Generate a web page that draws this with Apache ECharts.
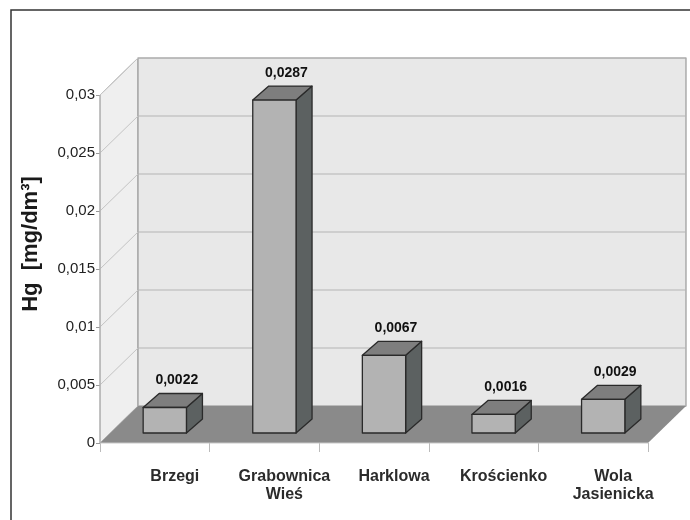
<!DOCTYPE html>
<html>
<head>
<meta charset="utf-8">
<script src="https://cdn.jsdelivr.net/npm/echarts@6/dist/echarts.min.js"></script>
<style>
  html, body { margin: 0; padding: 0; background: #fff; }
  #chart { width: 690px; height: 520px; }
</style>
</head>
<body>
<div id="chart"></div>
<script>
// dane
var categories = ['Brzegi', 'Grabownica\nWieś', 'Harklowa', 'Krościenko', 'Wola\nJasienicka'];
var hgValues = [0.0022, 0.0287, 0.0067, 0.0016, 0.0029];
var yTicks = [0, 0.005, 0.01, 0.015, 0.02, 0.025, 0.03];

var FONT = '"Liberation Sans", Arial, sans-serif';
// przesunięcie głębi (3D)
var DX = 38, DY = -37;
var BAR_OFF = 10, BAR_DX = 16, BAR_DY = -14;

function fmt (v) {
  return String(+v.toFixed(4)).replace('.', ',');
}

var chart = echarts.init(document.getElementById('chart'));

var option = {
  animation: false,
  grid: { left: 100, right: 42, top: 95, bottom: 77 },
  graphic: [
    {
      type: 'rect', z: 0,
      shape: { x: 11, y: 10, width: 700, height: 600 },
      style: { fill: 'none', stroke: '#333', lineWidth: 1.5 }
    },
    {
      type: 'text', z: 10,
      x: 31, y: 244, rotation: Math.PI / 2,
      style: {
        text: 'Hg  [mg/dm³]', font: 'bold 22px ' + FONT, fill: '#1a1a1a',
        textAlign: 'center', textVerticalAlign: 'middle'
      }
    }
  ],
  xAxis: {
    type: 'category',
    data: categories,
    axisLine: { show: false },
    axisTick: { show: true, interval: 0, length: 9, lineStyle: { color: '#bbb' } },
    axisLabel: {
      interval: 0, hideOverlap: false,
      margin: 25, padding: [0, 0, 0, 40],
      fontFamily: FONT, fontSize: 16, fontWeight: 'bold', color: '#2b2b2b', lineHeight: 18
    }
  },
  yAxis: {
    type: 'value',
    min: 0, max: 0.03, interval: 0.005,
    splitLine: { show: false },
    axisLine: { show: false },
    axisTick: { show: true, length: 4, lineStyle: { color: '#999' } },
    axisLabel: {
      margin: 5, fontFamily: FONT, fontSize: 15, color: '#222',
      formatter: fmt
    }
  },
  series: [
    {
      // ściany
      type: 'custom', z: 1, clip: false, silent: true,
      data: [[0, 0]],
      renderItem: function (params, api) {
        var cs = params.coordSys;
        var x0 = cs.x, x1 = cs.x + cs.width;
        var yTop = api.coord([0, yTicks[yTicks.length - 1]])[1];
        var yBot = api.coord([0, 0])[1];
        return {
          type: 'group',
          children: [
            { type: 'polygon', shape: { points: [[x0, yTop], [x0 + DX, yTop + DY], [x0 + DX, yBot + DY], [x0, yBot]] },
              style: { fill: '#efefef', stroke: '#b0b0b0', lineWidth: 1 } },
            { type: 'rect', shape: { x: x0 + DX, y: yTop + DY, width: x1 - x0, height: yBot - yTop },
              style: { fill: '#e8e8e8', stroke: '#999', lineWidth: 1.2 } }
          ]
        };
      }
    },
    {
      // linie siatki
      type: 'custom', z: 2, clip: false, silent: true,
      data: yTicks.map(function (v) { return [0, v]; }),
      renderItem: function (params, api) {
        var cs = params.coordSys;
        var x0 = cs.x, x1 = cs.x + cs.width;
        var y = api.coord([0, api.value(1)])[1];
        return {
          type: 'group',
          children: [
            { type: 'line', shape: { x1: x0 + DX, y1: y + DY, x2: x1 + DX, y2: y + DY },
              style: { stroke: '#b3b3b3', lineWidth: 1.2 } },
            { type: 'line', shape: { x1: x0, y1: y, x2: x0 + DX, y2: y + DY },
              style: { stroke: '#c4c4c4', lineWidth: 1 } }
          ]
        };
      }
    },
    {
      // podłoga
      type: 'custom', z: 3, clip: false, silent: true,
      data: [[0, 0]],
      renderItem: function (params, api) {
        var cs = params.coordSys;
        var x0 = cs.x, x1 = cs.x + cs.width;
        var yTop = api.coord([0, yTicks[yTicks.length - 1]])[1];
        var yBot = api.coord([0, 0])[1];
        return {
          type: 'group',
          children: [
            { type: 'polygon', shape: { points: [[x0, yBot], [x1, yBot], [x1 + DX, yBot + DY], [x0 + DX, yBot + DY]] },
              style: { fill: '#8a8a8a' } },
            { type: 'line', shape: { x1: x0, y1: yBot, x2: x1, y2: yBot },
              style: { stroke: '#c8c8c8', lineWidth: 1 } },
            { type: 'line', shape: { x1: x0, y1: yTop, x2: x0, y2: yBot },
              style: { stroke: '#aaa', lineWidth: 1 } }
          ]
        };
      }
    },
    {
      // słupki 3D
      type: 'custom', z: 4, clip: false,
      data: hgValues.map(function (v, i) { return [i, v]; }),
      renderItem: function (params, api) {
        var val = api.value(1);
        var top = api.coord([api.value(0), val]);
        var base = api.coord([api.value(0), 0]);
        var w = api.size([1, 0])[0] * 0.395;
        var xl = top[0] + BAR_OFF - w / 2, xr = xl + w;
        var yt = top[1] - BAR_OFF, yb = base[1] - BAR_OFF;
        var stroke = { stroke: '#2a2a2a', lineWidth: 1.3, lineJoin: 'round' };
        return {
          type: 'group',
          children: [
            { type: 'polygon', shape: { points: [[xr, yt], [xr + BAR_DX, yt + BAR_DY], [xr + BAR_DX, yb + BAR_DY], [xr, yb]] },
              style: Object.assign({ fill: '#5c6161' }, stroke) },
            { type: 'polygon', shape: { points: [[xl, yt], [xl + BAR_DX, yt + BAR_DY], [xr + BAR_DX, yt + BAR_DY], [xr, yt]] },
              style: Object.assign({ fill: '#7e7e7e' }, stroke) },
            { type: 'rect', shape: { x: xl, y: yt, width: w, height: yb - yt },
              style: Object.assign({ fill: '#b3b3b3' }, stroke) },
            { type: 'text', x: (xl + xr) / 2 + 12, y: yt + BAR_DY - 6,
              style: { text: fmt(val), font: 'bold 14px ' + FONT, fill: '#111',
                textAlign: 'center', textVerticalAlign: 'bottom' } }
          ]
        };
      }
    }
  ]
};

chart.setOption(option);
</script>
</body>
</html>
